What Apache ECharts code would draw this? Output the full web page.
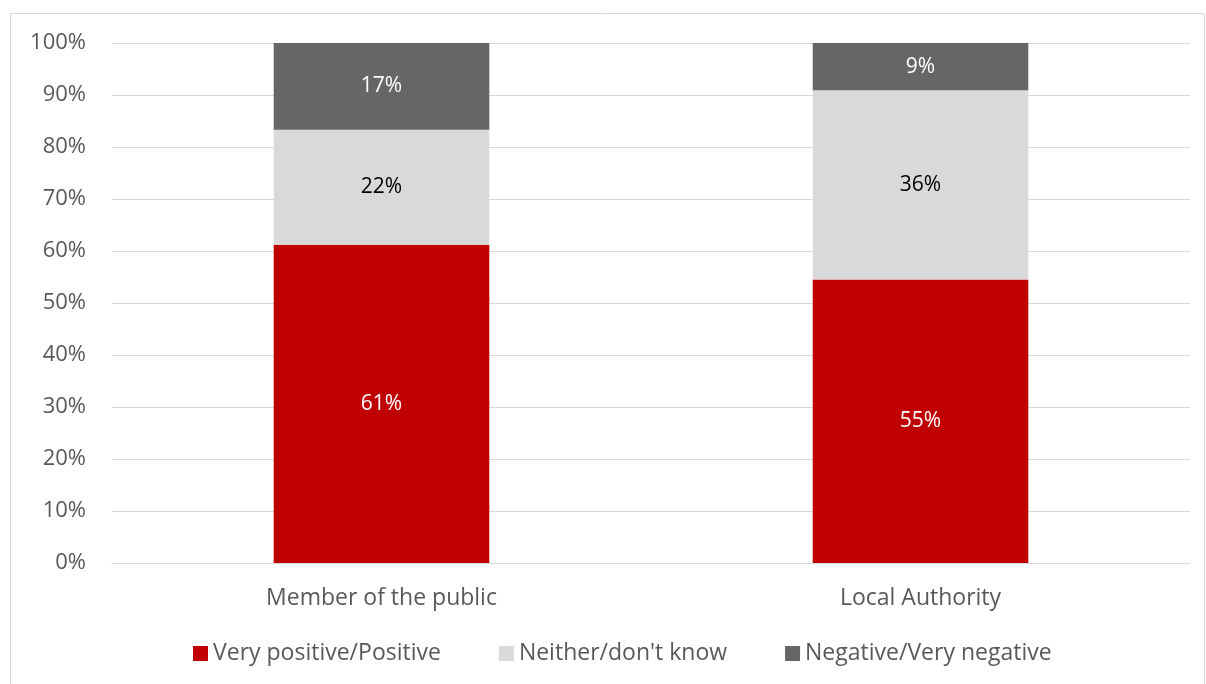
<!DOCTYPE html>
<html><head><meta charset="utf-8">
<script src="https://cdn.jsdelivr.net/npm/echarts@6/dist/echarts.min.js"></script>
<style>html,body{margin:0;padding:0;background:#fff}#c{width:1206px;height:684px}</style>
</head><body><div id="c"></div>
<script>
const categories = ["Member of the public", "Local Authority"];
const positive = [61.2, 54.5];
const neither = [22.1, 36.4];
const negative = [16.7, 9.1];
const seriesNames = ["Very positive/Positive", "Neither/don't know", "Negative/Very negative"];
const colors = ["#C00000", "#D9D9D9", "#666666"];
const labelColors = ["#ffffff", "#000000", "#ffffff"];
const yTicks = [0,10,20,30,40,50,60,70,80,90,100];

const chart = echarts.init(document.getElementById('c'));
const font = '"Open Sans", sans-serif';
const mk = (name, data, i) => ({
  name, type: 'bar', stack: 'total', data, barWidth: '40%',
  itemStyle: {color: colors[i]},
  label: {show: true, position: 'inside', color: labelColors[i], fontSize: 21, fontFamily: font,
    formatter: p => Math.round(p.value) + '%'}
});
chart.setOption({
  animation: false,
  graphic: [{type: 'rect', shape: {x: 10.5, y: 13.5, width: 1194, height: 700}, style: {fill: 'none', stroke: '#D9D9D9', lineWidth: 1}}],
  grid: {left: 112, right: 16, top: 43, bottom: 121},
  legend: {bottom: 14, left: 188, itemWidth: 15, itemHeight: 15, itemGap: 58, icon: 'rect',
    textStyle: {fontSize: 23, color: '#595959', fontFamily: font}, data: seriesNames},
  xAxis: {type: 'category', data: categories,
    axisLine: {lineStyle: {color: '#D9D9D9'}}, axisTick: {show: false},
    axisLabel: {fontSize: 23, color: '#595959', fontFamily: font, margin: 24}},
  yAxis: {type: 'value', min: 0, max: 100, interval: 10,
    axisLine: {show: false}, axisTick: {show: false},
    splitLine: {lineStyle: {color: '#D9D9D9'}},
    axisLabel: {fontSize: 22, color: '#595959', fontFamily: font, margin: 26,
      formatter: v => yTicks.includes(v) ? v + '%' : ''}},
  series: [mk(seriesNames[0], positive, 0), mk(seriesNames[1], neither, 1), mk(seriesNames[2], negative, 2)]
});
</script></body></html>
